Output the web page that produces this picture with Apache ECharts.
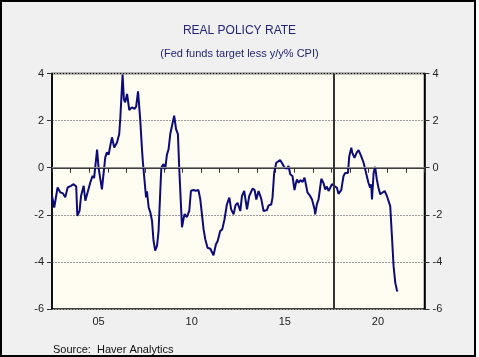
<!DOCTYPE html>
<html>
<head>
<meta charset="utf-8">
<script src="https://cdn.jsdelivr.net/npm/echarts@6/dist/echarts.min.js"></script>
<style>
  html, body { margin: 0; padding: 0; background: #ffffff; }
  #frame { position: absolute; left: 0; top: 0; width: 476px; height: 357px; box-sizing: border-box; border: 2px solid #000; background: #f0f0f0; }
  #chart { position: absolute; left: 0; top: 0; width: 479px; height: 357px; }
</style>
</head>
<body>
<div id="frame"></div>
<div id="chart"></div>
<script>
// Decimal year of each observation
const dates = [
  2003.00, 2003.12, 2003.18, 2003.30, 2003.45, 2003.59, 2003.71, 2003.84, 2003.94, 2004.02,
  2004.16, 2004.30, 2004.36, 2004.48, 2004.56, 2004.70, 2004.79, 2004.88, 2005.06, 2005.18,
  2005.26, 2005.42, 2005.50, 2005.60, 2005.68, 2005.86, 2005.95, 2006.04, 2006.13, 2006.22,
  2006.34, 2006.49, 2006.61, 2006.67, 2006.79, 2006.86, 2006.93, 2007.03, 2007.15, 2007.29,
  2007.43, 2007.52, 2007.62, 2007.74, 2007.83, 2007.88, 2007.97, 2008.05, 2008.10, 2008.19,
  2008.28, 2008.37, 2008.45, 2008.54, 2008.64, 2008.72, 2008.78, 2008.87, 2008.99, 2009.08,
  2009.17, 2009.26, 2009.35, 2009.44, 2009.56, 2009.66, 2009.76, 2009.83, 2009.98, 2010.06,
  2010.12, 2010.24, 2010.37, 2010.46, 2010.60, 2010.72, 2010.86, 2010.96, 2011.04, 2011.14,
  2011.23, 2011.35, 2011.50, 2011.67, 2011.80, 2011.90, 2012.03, 2012.14, 2012.26, 2012.39,
  2012.52, 2012.62, 2012.75, 2012.85, 2012.96, 2013.05, 2013.11, 2013.20, 2013.32, 2013.47,
  2013.59, 2013.77, 2013.88, 2013.97, 2014.09, 2014.23, 2014.36, 2014.45, 2014.54, 2014.63,
  2014.77, 2014.84, 2014.93, 2015.04, 2015.13, 2015.25, 2015.34, 2015.49, 2015.61, 2015.70,
  2015.79, 2015.91, 2016.02, 2016.10, 2016.15, 2016.24, 2016.33, 2016.46, 2016.56, 2016.63,
  2016.72, 2016.86, 2016.96, 2017.10, 2017.13, 2017.22, 2017.31, 2017.46, 2017.58, 2017.67,
  2017.76, 2017.85, 2017.94, 2018.03, 2018.17, 2018.30, 2018.38, 2018.53, 2018.60, 2018.65,
  2018.74, 2018.83, 2018.89, 2018.96, 2019.07, 2019.12, 2019.24, 2019.36, 2019.46, 2019.60,
  2019.73, 2019.86, 2019.99, 2020.08, 2020.14, 2020.18, 2020.27, 2020.35, 2020.44, 2020.53,
  2020.62, 2020.71, 2020.86, 2020.98, 2021.07, 2021.16, 2021.25, 2021.34, 2021.43, 2021.52,
  2021.56
];
// Real policy rate (%)
const rates = [
  -1.19, -1.69, -1.76, -0.84, -1.05, -1.09, -1.26, -0.84, -0.91, -0.77,
  -0.70, -0.80, -2.05, -1.83, -1.20, -0.77, -1.40, -1.47, -0.62, -0.34,
  -0.44, 0.77, 0.00, 0.07, -0.92, 0.44, 0.65, 0.55, 0.93, 1.29,
  0.86, 1.07, 1.43, 2.13, 3.96, 2.90, 2.78, 3.13, 2.45, 2.56,
  2.50, 2.60, 3.24, 2.00, 0.80, 0.23, 0.15, -1.26, -1.00, -1.69,
  -1.90, -2.25, -3.10, -3.52, -3.31, -2.70, -2.67, 0.01, 0.15, -0.06,
  0.55, 0.79, 1.43, 1.50, 2.21, 1.64, 1.43, 0.00, -2.53, -2.18,
  -1.97, -2.10, -1.83, -0.98, -0.95, -0.98, -0.95, -1.33, -1.40, -2.62,
  -3.04, -3.40, -3.44, -3.72, -3.26, -3.10, -2.69, -2.62, -2.20, -1.56,
  -1.27, -1.77, -1.98, -1.60, -1.49, -1.44, -1.84, -1.20, -0.99, -1.77,
  -1.20, -0.89, -0.95, -1.35, -0.99, -1.30, -1.84, -1.90, -1.80, -1.60,
  -1.56, -1.27, -0.21, 0.21, 0.16, 0.32, 0.21, 0.00, -0.04, 0.07,
  -0.28, -0.35, -0.95, -0.64, -0.50, -0.64, -0.53, -0.60, -0.42, -0.70,
  -1.06, -1.20, -1.35, -1.77, -1.98, -1.56, -1.35, -0.47, -0.66, -0.92,
  -0.80, -0.99, -0.85, -0.70, -0.78, -0.85, -1.11, -0.95, -0.92, -0.36,
  -0.22, -0.14, -0.22, 0.49, 0.85, 0.64, 0.42, 0.64, 0.75, 0.49,
  0.21, -0.21, -0.64, -0.85, -0.71, -1.35, -0.21, 0.04, -0.50, -0.85,
  -1.13, -1.20, -0.99, -1.20, -1.27, -1.63, -2.90, -4.18, -4.88, -5.21,
  -5.25
];
// X tick labels (centred on the year)
const xLabelYears = [2005, 2010, 2015, 2020];
const xLabelTexts = ['05', '10', '15', '20'];
// Y ticks
const yMin = -6, yMax = 4, yStep = 2;
const xMin = 2003, xMax = 2023;
const chairLine = 2018.15;

const titleText = 'REAL POLICY RATE';
const subtitleText = '(Fed funds target less y/y% CPI)';
const sourceText = 'Source:  Haver Analytics';

const FONT = '"Liberation Sans", Arial, sans-serif';
const chart = echarts.init(document.getElementById('chart'), null, { renderer: 'canvas' });

const labelMap = {};
xLabelYears.forEach((y, i) => { labelMap[y] = xLabelTexts[i]; });

const yAxisBase = {
  type: 'value', min: yMin, max: yMax, interval: yStep,
  axisLine: { show: true, lineStyle: { color: '#000', width: 1.5 } },
  axisTick: { show: true, length: 5, lineStyle: { color: '#333', width: 1 } },
  axisLabel: { color: '#222', fontSize: 11, fontFamily: FONT, margin: 8 }
};

chart.setOption({
  animation: false,
  backgroundColor: 'transparent',
  grid: {
    left: 52, top: 73.5, width: 372.5, height: 235.5,
    show: true, backgroundColor: '#fffcf2', borderColor: '#000', borderWidth: 1.5
  },
  graphic: [
    { type: 'text', left: 'center', top: 25, style: { text: titleText, fill: '#24247a', font: '12px ' + FONT } },
    { type: 'text', left: 'center', top: 48, style: { text: subtitleText, fill: '#24247a', font: '11px ' + FONT } },
    { type: 'text', left: 53, top: 344, style: { text: sourceText, fill: '#111', font: '11px ' + FONT } }
  ],
  xAxis: [
    {
      type: 'value', min: xMin, max: xMax, interval: 1, position: 'bottom',
      axisLine: { show: true, lineStyle: { color: '#000', width: 1.5 } },
      axisTick: { show: true, length: 5, lineStyle: { color: '#333', width: 1 } },
      axisLabel: { show: false },
      splitLine: { show: false }
    },
    {
      type: 'value', min: xMin, max: xMax, interval: 0.5, position: 'bottom',
      axisLine: { show: false }, axisTick: { show: false }, splitLine: { show: false },
      axisLabel: {
        color: '#222', fontSize: 11, fontFamily: FONT, margin: 7,
        formatter: v => { const y = Math.round((v - 0.5) * 10) / 10; return labelMap[y] || ''; }
      }
    }
  ],
  yAxis: [
    Object.assign({}, yAxisBase, {
      position: 'left',
      splitLine: { show: true, lineStyle: { color: '#999', type: [2, 1], width: 1 } }
    }),
    Object.assign({}, yAxisBase, { position: 'right', splitLine: { show: false } })
  ],
  series: [{
    type: 'line', xAxisIndex: 0, yAxisIndex: 0,
    data: dates.map((d, i) => [d, rates[i]]),
    symbol: 'none', silent: true,
    lineStyle: { color: '#0b0b7a', width: 2 },
    markLine: {
      silent: true, symbol: ['none', 'none'], label: { show: false },
      data: [
        { yAxis: 0, lineStyle: { color: '#888', type: 'solid', width: 1.2 } },
        { xAxis: chairLine, lineStyle: { color: '#333', type: 'solid', width: 2 } }
      ]
    }
  }]
});
</script>
</body>
</html>
